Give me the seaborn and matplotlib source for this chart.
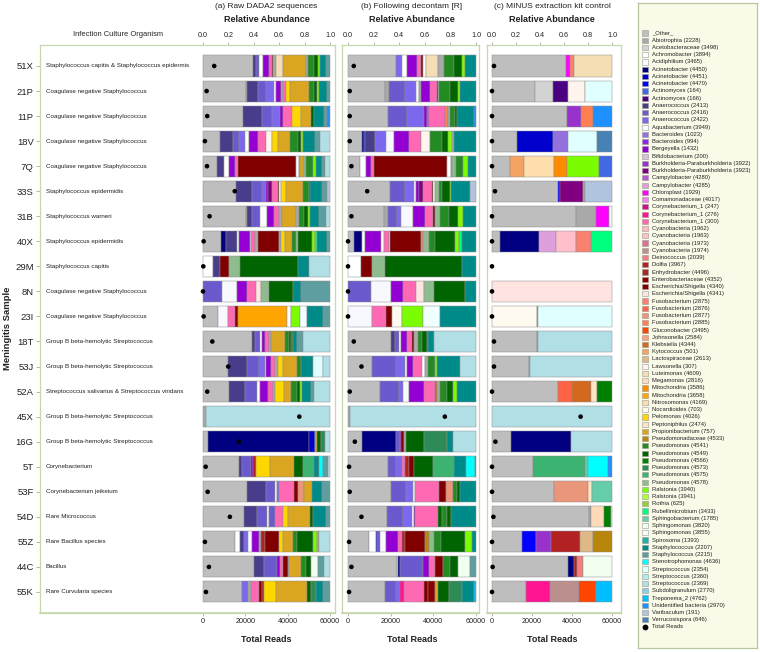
import numpy as np
import pandas as pd
import matplotlib
matplotlib.use('Agg')
import matplotlib.pyplot as plt
import seaborn as sns

sns.set_theme(style='white')
plt.rcParams['font.family'] = ['Liberation Sans', 'DejaVu Sans']

samples = ['51X', '21P', '11P', '18V', '7Q', '33S', '31B', '40X', '29M', '8N', '23I',
           '18T', '53J', '52A', '45X', '16G', '5T', '53F', '54D', '55Z', '44C', '55K']
organisms = ['Staphylococcus capitis & Staphylococcus epidermis',
             'Coagulase negative Staphylococcus', 'Coagulase negative Staphylococcus',
             'Coagulase negative Staphylococcus', 'Coagulase negative Staphylococcus',
             'Staphylococcus epidermidis', 'Staphylococcus warneri', 'Staphylococcus epidermidis',
             'Staphylococcus capitis', 'Coagulase negative Staphylococcus',
             'Coagulase negative Staphylococcus', 'Group B beta-hemolytic Streptococcus',
             'Group B beta-hemolytic Streptococcus',
             'Streptococcus salivarius & Streptococcus viridans',
             'Group B beta-hemolytic Streptococcus', 'Group B beta-hemolytic Streptococcus',
             'Corynebacterium', 'Corynebacterium jeikeium', 'Rare Micrococcus',
             'Rare Bacillus species', 'Bacillus', 'Rare Curvularia species']

taxa_codes = ['oth', 'abi', 'ace', 'ach', 'acd', 'ac1', 'ac2', 'ac3', 'at1', 'at2', 'an1', 'an2', 'an3',
              'aqu', 'ba1', 'ba2', 'ber', 'bif', 'bu1', 'bu2', 'ca1', 'ca2', 'chl', 'com', 'co1', 'co2',
              'co3', 'cy1', 'cy2', 'cy3', 'cy4', 'dei', 'dol', 'enh', 'ent', 'es1', 'es2', 'fu1', 'fu2',
              'fu3', 'fu4', 'glu', 'joh', 'kle', 'kyt', 'lac', 'law', 'lut', 'meg', 'mi1', 'mi2', 'nit',
              'noc', 'pel', 'pep', 'pro', 'psa', 'ps1', 'ps2', 'ps3', 'ps4', 'ps5', 'ps6', 'ra1', 'ra2',
              'rot', 'rub', 'sba', 'sm1', 'sm2', 'spi', 'st1', 'st2', 'ste', 'sr1', 'sr2', 'sr3', 'sub',
              'tre', 'uni', 'var', 'ver']
taxa_names = ['_Other_', 'Abiotrophia (2228)', 'Acetobacteraceae (3498)', 'Achromobacter (3894)',
              'Acidiphilium (3465)', 'Acinetobacter (4450)', 'Acinetobacter (4451)',
              'Acinetobacter (4470)', 'Actinomyces (164)', 'Actinomyces (166)',
              'Anaerococcus (2413)', 'Anaerococcus (2416)', 'Anaerococcus (2422)',
              'Aquabacterium (3949)', 'Bacteroides (1023)', 'Bacteroides (994)',
              'Bergeyella (1432)', 'Bifidobacterium (200)',
              'Burkholderia-Paraburkholderia (3922)', 'Burkholderia-Paraburkholderia (3923)',
              'Campylobacter (4280)', 'Campylobacter (4285)', 'Chloroplast (1929)',
              'Comamonadaceae (4017)', 'Corynebacterium_1 (247)', 'Corynebacterium_1 (276)',
              'Corynebacterium_1 (300)', 'Cyanobacteria (1962)', 'Cyanobacteria (1963)',
              'Cyanobacteria (1973)', 'Cyanobacteria (1974)', 'Deinococcus (2039)', 'Dolfia (3967)',
              'Enhydrobacter (4496)', 'Enterobacteriaceae (4352)', 'Escherichia/Shigella (4340)',
              'Escherichia/Shigella (4341)', 'Fusobacterium (2875)', 'Fusobacterium (2876)',
              'Fusobacterium (2877)', 'Fusobacterium (2885)', 'Gluconobacter (3495)',
              'Johnsonella (2584)', 'Klebsiella (4344)', 'Kytococcus (501)', 'Lactospiraceae (2613)',
              'Lawsonella (307)', 'Luteimonas (4609)', 'Megamonas (2816)', 'Mitochondria (3586)',
              'Mitochondria (3658)', 'Nitrosomonas (4169)', 'Nocardioides (703)', 'Pelomonas (4026)',
              'Peptoniphilus (2474)', 'Propionibacterium (757)', 'Pseudomonadaceae (4533)',
              'Pseudomonas (4541)', 'Pseudomonas (4549)', 'Pseudomonas (4566)', 'Pseudomonas (4573)',
              'Pseudomonas (4575)', 'Pseudomonas (4578)', 'Ralstonia (3940)', 'Ralstonia (3941)',
              'Rothia (625)', 'Rubellimicrobium (3433)', 'Sphingobacterium (1785)',
              'Sphingomonas (3820)', 'Sphingomonas (3855)', 'Spirosoma (1393)',
              'Staphylococcus (2207)', 'Staphylococcus (2215)', 'Stenotrophomonas (4636)',
              'Streptococcus (2354)', 'Streptococcus (2360)', 'Streptococcus (2369)',
              'Subdoligranulum (2770)', 'Treponema_2 (4762)', 'Unidentified bacteria (2970)',
              'Varibaculum (191)', 'Verrucosispora (646)']
taxa_colors = ['#BEBEBE', '#A9A9A9', '#D3D3D3', '#FFFFFF', '#F8F8FF', '#000080', '#0000CD', '#0000FF',
               '#4169E1', '#4B0082', '#483D8B', '#6A5ACD', '#7B68EE', '#F0FFFF', '#9370DB', '#8A2BE2',
               '#9400D3', '#D8BFD8', '#9932CC', '#800080', '#BA55D3', '#DDA0DD', '#FF00FF', '#EE82EE',
               '#C71585', '#FF1493', '#FF69B4', '#FFB6C1', '#FFC0CB', '#DB7093', '#BC8F8F', '#F08080',
               '#B22222', '#A52A2A', '#8B0000', '#800000', '#FFE4E1', '#FA8072', '#FF6347', '#E9967A',
               '#FF7F50', '#FF4500', '#FFA07A', '#D2691E', '#F4A460', '#DEB887', '#FFF5EE', '#F5DEB3',
               '#FFDAB9', '#FF8C00', '#FFA500', '#FFDEAD', '#FFFAF0', '#FFD700', '#FFE4C4', '#DAA520',
               '#B8860B', '#228B22', '#006400', '#008000', '#2E8B57', '#3CB371', '#8FBC8F', '#7CFC00',
               '#ADFF2F', '#9ACD32', '#00FF7F', '#66CDAA', '#F0FFF0', '#F5FFFA', '#20B2AA', '#008B8B',
               '#5F9EA0', '#00FFFF', '#E0FFFF', '#AFEEEE', '#B0E0E6', '#87CEEB', '#00BFFF', '#1E90FF',
               '#B0C4DE', '#4682B4']

# (a) raw DADA2 sequences: relative abundance per sample
raw_bars = [
    [('oth', .385), ('an1', .02), ('an2', .02), ('ach', .03), ('ber', .045), ('co3', .025), ('es1', .01), ('abi', .02), ('lut', .057), ('pro', .172), ('abi', .02), ('ps1', .04), ('ps2', .03), ('ra1', .015), ('st1', .05), ('st2', .03)],
    [('oth', .323), ('abi', .01), ('an1', .086), ('an2', .057), ('an3', .057), ('ach', .021), ('ber', .039), ('abi', .008), ('co3', .026), ('pel', .031), ('pro', .141), ('ps1', .039), ('ps2', .026), ('ra1', .013), ('st1', .062), ('st2', .021)],
    [('oth', .302), ('an1', .146), ('an2', .078), ('an3', .063), ('ber', .018), ('co3', .073), ('pel', .068), ('pro', .078), ('ps2', .016), ('st1', .078), ('st2', .026), ('uni', .021)],
    [('oth', .125), ('an1', .096), ('an2', .047), ('an3', .047), ('ach', .031), ('ber', .065), ('co3', .06), ('law', .047), ('pel', .039), ('pro', .091), ('ps1', .057), ('ps2', .026), ('ra1', .018), ('st1', .086), ('st2', .039), ('sr3', .073)],
    [('oth', .107), ('an1', .052), ('ach', .036), ('ber', .042), ('co3', .021), ('es1', .435), ('ach', .021), ('abi', .013), ('pro', .026), ('ps6', .015), ('ps1', .052), ('ra1', .023), ('st1', .044), ('st2', .026), ('sr3', .034)],
    [('oth', .255), ('an1', .125), ('an2', .073), ('an3', .031), ('ber', .018), ('bu2', .026), ('co3', .047), ('es1', .013), ('ach', .013), ('pel', .039), ('pro', .13), ('ps1', .044), ('ps2', .013), ('st1', .091), ('st2', .039), ('var', .021)],
    [('oth', .328), ('abi', .013), ('an1', .039), ('an2', .057), ('ach', .052), ('ber', .06), ('co3', .036), ('abi', .02), ('pro', .112), ('abi', .018), ('ps1', .039), ('ps2', .031), ('ra1', .021), ('st1', .065), ('st2', .052), ('sr3', .034)],
    [('oth', .133), ('ac1', .039), ('an1', .078), ('ach', .013), ('ber', .078), ('ach', .013), ('co3', .026), ('abi', .02), ('es1', .156), ('abi', .013), ('pel', .034), ('pro', .052), ('ps1', .026), ('ps6', .013), ('ps2', .104), ('ra1', .021), ('rub', .018), ('st1', .073), ('st2', .021)],
    [('ach', .081), ('an1', .055), ('es1', .065), ('ps6', .086), ('ps2', .453), ('st1', .086), ('sr3', .164)],
    [('an2', .141), ('acd', .117), ('ber', .07), ('co3', .07), ('es2', .034), ('ps6', .065), ('ps2', .177), ('st1', .057), ('st2', .219)],
    [('oth', .115), ('acd', .078), ('co3', .052), ('es1', .021), ('mi2', .37), ('ach', .034), ('ra1', .065), ('aqu', .057), ('st1', .12), ('st2', .052)],
    [('oth', .367), ('an1', .018), ('an2', .039), ('ach', .013), ('ber', .026), ('co3', .026), ('abi', .018), ('pro', .104), ('ps1', .026), ('ps2', .018), ('ps1', .013), ('st1', .031), ('st2', .047), ('sr3', .198)],
    [('oth', .185), ('an1', .138), ('an2', .086), ('an3', .044), ('ach', .013), ('ber', .031), ('co3', .034), ('abi', .02), ('pel', .036), ('pro', .104), ('ps1', .031), ('st1', .086), ('sr1', .07), ('sr3', .055)],
    [('oth', .198), ('an1', .12), ('an2', .089), ('ach', .018), ('ber', .06), ('co3', .039), ('abi', .018), ('pel', .068), ('pro', .052), ('ps1', .042), ('ps2', .026), ('ra1', .013), ('st1', .07), ('st2', .021), ('sr3', .12)],
    [('abi', .021), ('sr3', .979)],
    [('oth', .036), ('ac1', .755), ('ac2', .047), ('ach', .005), ('pro', .013), ('ps2', .026), ('ps4', .034), ('sr3', .036)],
    [('oth', .281), ('an1', .021), ('an2', .065), ('ber', .018), ('dol', .026), ('pel', .104), ('pro', .19), ('ps2', .063), ('ps5', .086), ('st1', .044), ('ste', .026), ('st2', .039), ('sr3', .016)],
    [('oth', .328), ('an1', .138), ('an2', .07), ('ach', .013), ('an3', .013), ('co3', .11), ('es1', .034), ('fu3', .039), ('pro', .06), ('st1', .078), ('st2', .057)],
    [('oth', .297), ('an1', .1), ('an2', .07), ('ach', .018), ('an2', .042), ('co3', .06), ('pel', .039), ('pro', .161), ('ps2', .018), ('st1', .096), ('st2', .029)],
    [('oth', .237), ('ach', .034), ('an1', .031), ('an3', .031), ('acd', .026), ('ber', .052), ('abi', .018), ('dol', .026), ('es1', .104), ('pel', .031), ('pro', .073), ('ps1', .031), ('ps2', .12), ('ra1', .026), ('abi', .018), ('sr3', .081)],
    [('oth', .38), ('an1', .078), ('an2', .094), ('ber', .026), ('co3', .026), ('es1', .031), ('abi', .013), ('pro', .091), ('ps1', .034), ('ps2', .034), ('sm1', .057), ('st2', .047), ('sr3', .042)],
    [('oth', .297), ('an3', .039), ('abi', .026), ('co3', .06), ('es1', .026), ('dol', .013), ('pel', .091), ('pro', .234), ('ps2', .026), ('ps4', .039), ('st1', .052), ('st2', .055)],
]
raw_reads = [5300, 1700, 2000, 900, 1900, 15000, 3100, 300, 150, 0, 300,
             4400, 11900, 2000, 45500, 17000, 1250, 2200, 12700, 900, 2800, 1400]

# (b) following decontam [R]
decontam_bars = [
    [('oth', .343), ('an3', .04), ('ach', .037), ('ber', .074), ('co3', .026), ('es1', .013), ('ach', .021), ('lut', .087), ('abi', .04), ('ps1', .074), ('ps2', .053), ('ra1', .026), ('st1', .077)],
    [('oth', .277), ('abi', .026), ('an2', .119), ('an3', .079), ('acd', .026), ('abi', .018), ('ber', .066), ('co3', .047), ('es1', .008), ('abi', .013), ('ps1', .079), ('ps2', .061), ('ra1', .01), ('st1', .121)],
    [('oth', .303), ('an2', .148), ('an3', .124), ('ber', .026), ('ca1', .018), ('co3', .121), ('fu4', .021), ('abi', .018), ('ps1', .034), ('ps2', .013), ('st1', .132), ('uni', .016)],
    [('oth', .098), ('ac1', .013), ('ac3', .008), ('an1', .071), ('an3', .074), ('acd', .058), ('ber', .106), ('co3', .084), ('law', .066), ('ps1', .079), ('ps2', .045), ('ra1', .026), ('abi', .013), ('st1', .156)],
    [('oth', .087), ('ach', .04), ('ber', .037), ('co3', .026), ('es1', .528), ('ach', .026), ('abi', .013), ('ps6', .026), ('ps1', .053), ('ra1', .034), ('st1', .058)],
    [('oth', .298), ('an2', .113), ('an3', .061), ('ach', .013), ('ber', .026), ('bu2', .026), ('co3', .061), ('es1', .013), ('ach', .013), ('ps6', .026), ('ps1', .026), ('ps2', .053), ('ra1', .005), ('st1', .14), ('var', .042)],
    [('oth', .256), ('abi', .034), ('an2', .063), ('an3', .026), ('acd', .087), ('ber', .092), ('co3', .053), ('es1', .013), ('ps6', .042), ('ps1', .063), ('ps2', .061), ('ra1', .037), ('st1', .095)],
    [('oth', .045), ('ac1', .053), ('ach', .018), ('ber', .116), ('ach', .018), ('co3', .034), ('ach', .013), ('es1', .211), ('fu1', .016), ('ps6', .04), ('ps1', .045), ('ps2', .137), ('ra1', .034), ('rub', .021), ('st1', .095)],
    [('ach', .098), ('es1', .087), ('ps6', .106), ('ps2', .6), ('st1', .111)],
    [('an2', .172), ('acd', .153), ('ber', .087), ('co3', .098), ('es2', .058), ('ps6', .079), ('ps2', .227), ('st1', .084)],
    [('acd', .185), ('co3', .106), ('es1', .047), ('noc', .079), ('ra1', .158), ('aqu', .132), ('st1', .274)],
    [('oth', .317), ('an1', .032), ('an2', .026), ('ach', .016), ('ber', .047), ('co3', .04), ('es1', .013), ('abi', .026), ('ps1', .034), ('ps2', .032), ('ps1', .008), ('st1', .045), ('sr3', .314)],
    [('oth', .177), ('an2', .171), ('an3', .066), ('ach', .013), ('ber', .045), ('co3', .066), ('ach', .021), ('abi', .018), ('ps1', .053), ('ra1', .013), ('st1', .169), ('sr3', .116)],
    [('oth', .23), ('an2', .145), ('an3', .026), ('acd', .047), ('ber', .106), ('co3', .079), ('kle', .013), ('abi', .026), ('ps1', .053), ('ps2', .04), ('ra1', .032), ('st1', .137)],
    [('abi', .013), ('sr3', .987)],
    [('oth', .106), ('ac1', .256), ('an2', .026), ('ber', .013), ('es1', .021), ('abi', .013), ('ps2', .132), ('ps4', .177), ('st1', .042), ('sr3', .174)],
    [('oth', .298), ('an2', .066), ('an3', .04), ('co3', .026), ('dol', .026), ('es1', .04), ('ps2', .14), ('ps5', .164), ('st1', .087), ('ste', .066), ('uni', .01)],
    [('oth', .317), ('an2', .116), ('an3', .047), ('ach', .016), ('co3', .179), ('es1', .053), ('fu3', .053), ('ps1', .026), ('ps2', .026), ('st1', .116)],
    [('oth', .29), ('an2', .111), ('an3', .066), ('ach', .018), ('ber', .01), ('co3', .166), ('ps2', .032), ('ps1', .034), ('ps2', .032), ('st1', .182)],
    [('oth', .15), ('ach', .053), ('ac3', .01), ('an2', .021), ('acd', .047), ('ber', .087), ('co3', .026), ('dol', .026), ('es1', .14), ('psa', .032), ('ps6', .034), ('ps1', .053), ('ps2', .177), ('ra1', .047), ('st1', .032)],
    [('oth', .37), ('acd', .008), ('ac1', .018), ('an2', .172), ('ber', .047), ('co3', .04), ('es1', .063), ('ps1', .053), ('ps2', .061), ('sm1', .092), ('st2', .042)],
    [('oth', .277), ('an2', .079), ('an3', .034), ('co2', .032), ('co3', .145), ('es1', .032), ('ent', .053), ('pro', .018), ('ps2', .087), ('ps4', .098), ('st1', .087), ('tre', .016)],
]
decontam_reads = [2700, 800, 800, 800, 1600, 9000, 1600, 0, 0, 0, 0,
                  2700, 6300, 800, 45400, 3200, 500, 800, 6300, 500, 1600, 500]

# (c) minus extraction kit control
minus_bars = [
    [('oth', .608), ('chl', .03), ('fu1', .039), ('lut', .308)],
    [('oth', .358), ('ace', .147), ('at2', .13), ('law', .139), ('sr1', .225)],
    [('oth', .622), ('bu1', .117), ('fu4', .1), ('uni', .161)],
    [('oth', .211), ('ac2', .3), ('ba1', .125), ('sr1', .242), ('ver', .122)],
    [('oth', .15), ('kyt', .119), ('nit', .247), ('mi1', .106), ('ra1', .272), ('at1', .106)],
    [('oth', .544), ('ac3', .017), ('bu2', .189), ('abi', .019), ('var', .225)],
    [('oth', .7), ('abi', .164), ('chl', .114), ('sr1', .022)],
    [('oth', .067), ('ac1', .314), ('ca2', .139), ('cy2', .167), ('fu1', .125), ('rub', .169)],
    [],
    [('es2', 1.0)],
    [('noc', .372), ('abi', .011), ('sr1', .617)],
    [('oth', .372), ('abi', .011), ('sr3', .617)],
    [('oth', .311), ('abi', .006), ('sr3', .683)],
    [('oth', .544), ('fu2', .119), ('kle', .153), ('pep', .056), ('ps3', .122)],
    [('sr3', 1.0)],
    [('oth', .156), ('ac1', .5), ('sr3', .344)],
    [('oth', .339), ('ps5', .436), ('sba', .028), ('ste', .167), ('uni', .03)],
    [('oth', .517), ('fu3', .286), ('pep', .028), ('sba', .169)],
    [('oth', .811), ('abi', .014), ('meg', .108), ('ps3', .056), ('sr1', .011)],
    [('oth', .247), ('ac3', .119), ('bu1', .122), ('dol', .244), ('lac', .106), ('psa', .161)],
    [('oth', .636), ('ac1', .047), ('dol', .028), ('dei', .044), ('sm1', .244)],
    [('oth', .283), ('co2', .2), ('cy4', .244), ('glu', .139), ('tre', .133)],
]
minus_reads = [1000, 0, 0, 0, 0, 1500, 0, 0, 0, 0, 0,
               1000, 1000, 0, 44300, 1700, 0, 0, 700, 0, 300, 0]

color_of = dict(zip(taxa_codes, taxa_colors))
frame_col = '#c6d9ad'
tick_col = '#a8a8a8'
txt_col = '#222222'
max_reads = 60000

W, H = 760, 652
fig = plt.figure(figsize=(W / 100, H / 100), dpi=100)


def px_axes(x0, x1, y0=45, y1=613):
    return fig.add_axes([x0 / W, (H - y1) / H, (x1 - x0) / W, (y1 - y0) / H])


def draw_panel(ax, bars, reads, x0, x1, zero_px, one_px, title):
    per = 1 / (one_px - zero_px)
    for i, segs in enumerate(bars):
        if not segs:
            continue
        fr = np.array([f for _, f in segs])
        fr = fr / fr.sum()
        left = np.concatenate([[0], np.cumsum(fr)[:-1]])
        ax.barh(np.full(len(fr), i), fr, left=left, height=0.84,
                color=[color_of[c] for c, _ in segs], edgecolor='#8c8c8c', linewidth=0.35)
    dots = pd.DataFrame({'x': np.array(reads) / max_reads, 'y': np.arange(len(reads))})
    sns.scatterplot(data=dots, x='x', y='y', color='black', s=11, edgecolor='none',
                    ax=ax, zorder=5, legend=False)
    ax.set_xlabel('')
    ax.set_ylabel('')
    ax.set_xlim(-(zero_px - x0) * per, 1 + (x1 - one_px) * per)
    ax.set_ylim(21.84, -0.838)
    for sp in ax.spines.values():
        sp.set_color(frame_col)
        sp.set_linewidth(0.9)
    ax.xaxis.tick_top()
    ax.set_xticks([0, .2, .4, .6, .8, 1.0])
    ax.set_xticklabels(['0.0', '0.2', '0.4', '0.6', '0.8', '1.0'])
    ax.tick_params(axis='x', top=True, bottom=False, labeltop=True, labelbottom=False,
                   length=2.5, width=0.6, color=tick_col, labelsize=5.2, labelcolor=txt_col, pad=2)
    ax.set_yticks([])
    sec = ax.secondary_xaxis('bottom', functions=(lambda x: x * max_reads, lambda r: r / max_reads))
    sec.set_xticks([0, 20000, 40000, 60000])
    sec.tick_params(bottom=True, length=2, width=0.6, color=tick_col, labelsize=5.2,
                    labelcolor=txt_col, pad=1.5)
    sec.spines['bottom'].set_color(frame_col)
    ax.annotate('Relative Abundance', xy=(0.5, 1), xycoords=('data', 'axes fraction'),
                xytext=(0, 25), textcoords='offset pixels', ha='center', va='center',
                fontsize=6.5, fontweight='bold', color=txt_col)
    ax.annotate(title, xy=(0.5, 1), xycoords=('data', 'axes fraction'),
                xytext=(0, 38), textcoords='offset pixels', ha='center', va='center',
                fontsize=6, color=txt_col)
    ax.annotate('Total Reads', xy=(0.5, 0), xycoords=('data', 'axes fraction'),
                xytext=(0, -27), textcoords='offset pixels', ha='center', va='center',
                fontsize=6.5, fontweight='bold', color=txt_col)


ax_a = px_axes(40, 335)
draw_panel(ax_a, raw_bars, raw_reads, 40, 335, 203, 330, '(a) Raw DADA2 sequences')
ax_b = px_axes(342, 479)
draw_panel(ax_b, decontam_bars, decontam_reads, 342, 479, 348, 476, '(b) Following decontam [R]')
ax_c = px_axes(487, 621)
draw_panel(ax_c, minus_bars, minus_reads, 487, 621, 492, 612, '(c) MINUS extraction kit control')

# sample ids and culture organisms
ax_a.set_yticks(range(len(samples)))
ax_a.set_yticklabels(samples)
ax_a.tick_params(axis='y', left=True, length=3, width=0.6, color=tick_col, labelsize=6.8,
                 labelcolor=txt_col, pad=1.5)
org_x = (46 - 203) / 127
for i, org in enumerate(organisms):
    ax_a.text(org_x, i, org, fontsize=4.5, va='center', ha='left', color=txt_col)
ax_a.annotate('Infection Culture Organism', xy=((118 - 203) / 127, 1),
              xycoords=('data', 'axes fraction'), xytext=(0, 11), textcoords='offset pixels',
              ha='center', va='center', fontsize=5.4, color=txt_col)
fig.text(8 / W, 1 - 328 / H, 'Meningitis Sample', rotation=90, ha='center', va='center',
         fontsize=6.8, fontweight='bold', color=txt_col)

# legend panel
ax_leg = px_axes(638, 757, 3, 648)
ax_leg.set_facecolor('#fafae8')
for sp in ax_leg.spines.values():
    sp.set_color('#b7c79f')
    sp.set_linewidth(0.9)
ax_leg.set_xlim(0, 119)
ax_leg.set_ylim(82 + 21 / 7.24, -30 / 7.24)
ax_leg.set_xticks([])
ax_leg.set_yticks([])
ax_leg.scatter(np.full(len(taxa_names), 7), np.arange(len(taxa_names)), marker='s', s=14,
               c=taxa_colors, edgecolors='#9a9a9a', linewidths=0.4)
for i, name in enumerate(taxa_names):
    ax_leg.text(14, i, name, fontsize=4.2, va='center', ha='left', color=txt_col)
ax_leg.scatter([7], [len(taxa_names)], marker='o', s=10, color='black')
ax_leg.text(14, len(taxa_names), 'Total Reads', fontsize=4.2, va='center', ha='left', color=txt_col)

fig.savefig('out.png', dpi=100)
